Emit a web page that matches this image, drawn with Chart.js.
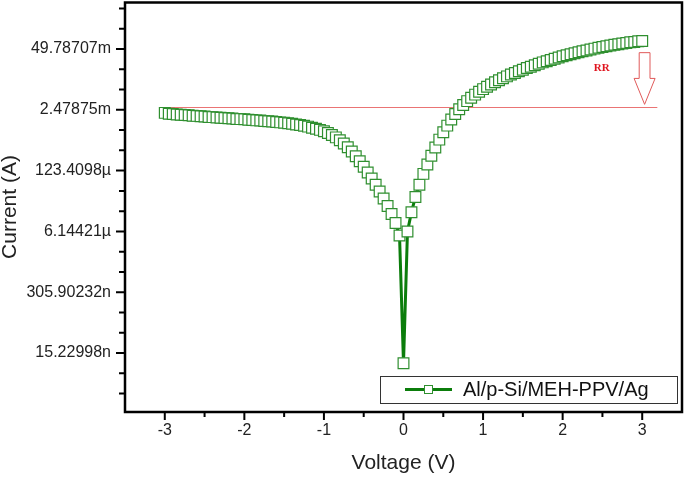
<!DOCTYPE html>
<html>
<head>
<meta charset="utf-8">
<title>I-V Al/p-Si/MEH-PPV/Ag</title>
<script src="https://cdn.jsdelivr.net/npm/chart.js@4.4.1/dist/chart.umd.min.js"></script>
<style>
  html,body{ margin:0; padding:0; background:#fff; }
  #ivChart{ display:block; }
</style>
</head>
<body>
<canvas id="ivChart" width="685" height="477"></canvas>
<script>
/* ==========================================================
   Curva I-V (semi-log, base e) — Al/p-Si/MEH-PPV/Ag
   ========================================================== */

// tensão aplicada (V)
const voltage = [
  -3.00,-2.95,-2.90,-2.85,-2.80,-2.75,-2.70,-2.65,-2.60,-2.55,
  -2.50,-2.45,-2.40,-2.35,-2.30,-2.25,-2.20,-2.15,-2.10,-2.05,
  -2.00,-1.95,-1.90,-1.85,-1.80,-1.75,-1.70,-1.65,-1.60,-1.55,
  -1.50,-1.45,-1.40,-1.35,-1.30,-1.25,-1.20,-1.15,-1.10,-1.05,
  -1.00,-0.95,-0.90,-0.85,-0.80,-0.75,-0.70,-0.65,-0.60,-0.55,
  -0.50,-0.45,-0.40,-0.35,-0.30,-0.25,-0.20,-0.15,-0.10,-0.05,
   0.00,
   0.05, 0.10, 0.15, 0.20, 0.25, 0.30, 0.35, 0.40, 0.45, 0.50,
   0.55, 0.60, 0.65, 0.70, 0.75, 0.80, 0.85, 0.90, 0.95, 1.00,
   1.05, 1.10, 1.15, 1.20, 1.25, 1.30, 1.35, 1.40, 1.45, 1.50,
   1.55, 1.60, 1.65, 1.70, 1.75, 1.80, 1.85, 1.90, 1.95, 2.00,
   2.05, 2.10, 2.15, 2.20, 2.25, 2.30, 2.35, 2.40, 2.45, 2.50,
   2.55, 2.60, 2.65, 2.70, 2.75, 2.80, 2.85, 2.90, 2.95, 3.00
];

const lnCurrent = [
  -6.15,-6.19,-6.21,-6.23,-6.24,-6.26,-6.27,-6.29,-6.30,-6.32,
  -6.33,-6.35,-6.36,-6.38,-6.39,-6.40,-6.42,-6.43,-6.45,-6.46,
  -6.47,-6.49,-6.50,-6.52,-6.53,-6.55,-6.56,-6.58,-6.60,-6.62,
  -6.64,-6.66,-6.69,-6.72,-6.75,-6.79,-6.83,-6.88,-6.93,-6.99,
  -7.06,-7.14,-7.24,-7.36,-7.50,-7.66,-7.85,-8.06,-8.29,-8.54,
  -8.81,-9.09,-9.39,-9.70,-10.03,-10.38,-10.75,-11.14,-11.58,-12.20,
  -18.50,
  -12.00,-11.05,-10.30,-9.70,-9.16,-8.70,-8.27,-7.86,-7.47,-7.11,
  -6.78,-6.48,-6.21,-5.97,-5.76,-5.57,-5.40,-5.25,-5.11,-4.98,
  -4.86,-4.75,-4.64,-4.54,-4.44,-4.35,-4.26,-4.18,-4.10,-4.02,
  -3.94,-3.87,-3.80,-3.73,-3.66,-3.60,-3.54,-3.48,-3.42,-3.36,
  -3.31,-3.26,-3.21,-3.16,-3.11,-3.07,-3.02,-2.98,-2.94,-2.90,
  -2.86,-2.83,-2.79,-2.76,-2.73,-2.70,-2.67,-2.65,-2.62,-2.60
];

const seriesLabel = 'Al/p-Si/MEH-PPV/Ag';

// eixo X
const xTicks = [-3,-2,-1,0,1,2,3];
const xMinor = [-2.5,-1.5,-0.5,0.5,1.5,2.5];

// eixo Y (ln da corrente)
const yTickLn     = [-3,-6,-9,-12,-15,-18];
const yTickLabels = ['49.78707m','2.47875m','123.4098µ','6.14421µ','305.90232n','15.22998n'];
const yMinorLn    = [-1,-2,-4,-5,-7,-8,-10,-11,-13,-14,-16,-17,-19,-20];

// anotação RR (linha de referência + seta)
const rrLevelLn = -5.85;
const rrLineX   = [-3.07, 3.19];
const rrArrow   = { x:3.03, shaftHalf:0.068, headHalf:0.132, topLn:-3.18, headLn:-4.45, tipLn:-5.73 };
const rrText    = { x:2.49, ln:-3.94, text:'RR' };

const GREEN = '#0b7d0b';
const SANS  = "'Liberation Sans', Arial, sans-serif";

const points = voltage.map((v,i)=>({ x:v, y:Math.exp(lnCurrent[i]) }));

// sem padding automático nos eixos (área do gráfico fixa)
function noPad(s){
  s.paddingTop = 0; s.paddingBottom = 0; s.paddingLeft = 0; s.paddingRight = 0;
}

// ---------- plugin: moldura, ticks menores, RR e legenda ----------
const decor = {
  id:'decor',
  beforeDatasetsDraw(chart){
    const {ctx, scales:{x, y}} = chart;
    ctx.save();
    ctx.strokeStyle = '#ea7474';
    ctx.lineWidth = 1;
    const yy = Math.round(y.getPixelForValue(Math.exp(rrLevelLn))) + 0.5;
    ctx.beginPath();
    ctx.moveTo(x.getPixelForValue(rrLineX[0]), yy);
    ctx.lineTo(x.getPixelForValue(rrLineX[1]), yy);
    ctx.stroke();
    ctx.restore();
  },
  afterDatasetsDraw(chart){
    const {ctx, chartArea:a, scales:{x, y}} = chart;
    ctx.save();

    // seta vazada
    const px = v => x.getPixelForValue(v);
    const py = l => y.getPixelForValue(Math.exp(l));
    const r = rrArrow;
    ctx.strokeStyle = '#e05a5a';
    ctx.lineWidth = 1;
    ctx.beginPath();
    ctx.moveTo(px(r.x - r.shaftHalf), py(r.topLn));
    ctx.lineTo(px(r.x + r.shaftHalf), py(r.topLn));
    ctx.lineTo(px(r.x + r.shaftHalf), py(r.headLn));
    ctx.lineTo(px(r.x + r.headHalf),  py(r.headLn));
    ctx.lineTo(px(r.x),               py(r.tipLn));
    ctx.lineTo(px(r.x - r.headHalf),  py(r.headLn));
    ctx.lineTo(px(r.x - r.shaftHalf), py(r.headLn));
    ctx.closePath();
    ctx.stroke();

    ctx.fillStyle = '#e0141e';
    ctx.font = "bold 11px 'Liberation Serif', 'Times New Roman', serif";
    ctx.textAlign = 'center';
    ctx.textBaseline = 'middle';
    ctx.fillText(rrText.text, px(rrText.x), py(rrText.ln));

    // ticks
    ctx.strokeStyle = '#000';
    ctx.lineWidth = 2;
    ctx.beginPath();
    xTicks.forEach(v=>{ const p = px(v); ctx.moveTo(p, a.bottom); ctx.lineTo(p, a.bottom + 8); });
    xMinor.forEach(v=>{ const p = px(v); ctx.moveTo(p, a.bottom); ctx.lineTo(p, a.bottom + 5); });
    yTickLn.forEach(l=>{ const p = py(l); ctx.moveTo(a.left, p); ctx.lineTo(a.left - 9, p); });
    yMinorLn.forEach(l=>{ const p = py(l); ctx.moveTo(a.left, p); ctx.lineTo(a.left - 6, p); });
    ctx.stroke();

    // moldura
    ctx.lineWidth = 2.5;
    ctx.strokeRect(a.left, a.top + 0.5, a.right - a.left, a.bottom - a.top - 0.5);

    // legenda
    const lx = a.left + 255, ly = a.bottom - 36, lw = 297, lh = 27, cy = ly + lh/2;
    ctx.lineWidth = 1;
    ctx.strokeStyle = '#333';
    ctx.strokeRect(lx + 0.5, ly + 0.5, lw, lh);
    ctx.strokeStyle = GREEN;
    ctx.lineWidth = 3;
    ctx.beginPath();
    ctx.moveTo(lx + 25, cy); ctx.lineTo(lx + 72, cy);
    ctx.stroke();
    ctx.fillStyle = '#fff';
    ctx.lineWidth = 1;
    ctx.strokeStyle = '#2f8f2f';
    ctx.fillRect(lx + 44.5, cy - 4, 8, 8);
    ctx.strokeRect(lx + 44.5, cy - 4, 8, 8);
    ctx.fillStyle = '#111';
    ctx.font = '20px ' + SANS;
    ctx.textAlign = 'left';
    ctx.fillText(seriesLabel, lx + 83, cy + 1);

    ctx.restore();
  }
};

new Chart(document.getElementById('ivChart'), {
  type:'line',
  data:{
    datasets:[{
      label: seriesLabel,
      data: points,
      borderColor: GREEN,
      borderWidth: 3,
      tension: 0,
      pointStyle: 'rect',
      pointRadius: 7.6,
      pointBorderWidth: 1.2,
      pointBorderColor: '#2f8f2f',
      pointBackgroundColor: '#fff'
    }]
  },
  options:{
    responsive:false,
    animation:false,
    layout:{ autoPadding:false, padding:{ top:2, right:3, left:0, bottom:0 } },
    plugins:{ legend:{ display:false }, tooltip:{ enabled:false } },
    scales:{
      x:{
        type:'linear', min:-3.5, max:3.5,
        grid:{ display:false, drawTicks:false },
        border:{ display:false },
        afterBuildTicks: s => { s.ticks = xTicks.map(v=>({ value:v })); },
        afterFit: s => { s.height = 65; noPad(s); },
        ticks:{ color:'#222', padding:9, font:{ family:SANS, size:16 } },
        title:{ display:true, text:'Voltage (V)', color:'#222', padding:{ top:0, bottom:3 },
                font:{ family:SANS, size:21, lineHeight:1 } }
      },
      y:{
        type:'logarithmic', bounds:'data',
        min: Math.exp(-20.91), max: Math.exp(-0.68),
        grid:{ display:false, drawTicks:false },
        border:{ display:false },
        afterBuildTicks: s => { s.ticks = yTickLn.map(l=>({ value:Math.exp(l) })); },
        afterFit: s => { s.width = 125; noPad(s); },
        ticks:{ color:'#222', padding:14, font:{ family:SANS, size:16 },
                callback:(v, i)=> yTickLabels[i] },
        title:{ display:true, text:'Current (A)', color:'#222', padding:{ top:0, bottom:0 },
                font:{ family:SANS, size:21, lineHeight:1 } }
      }
    }
  },
  plugins:[decor]
});
</script>
</body>
</html>
